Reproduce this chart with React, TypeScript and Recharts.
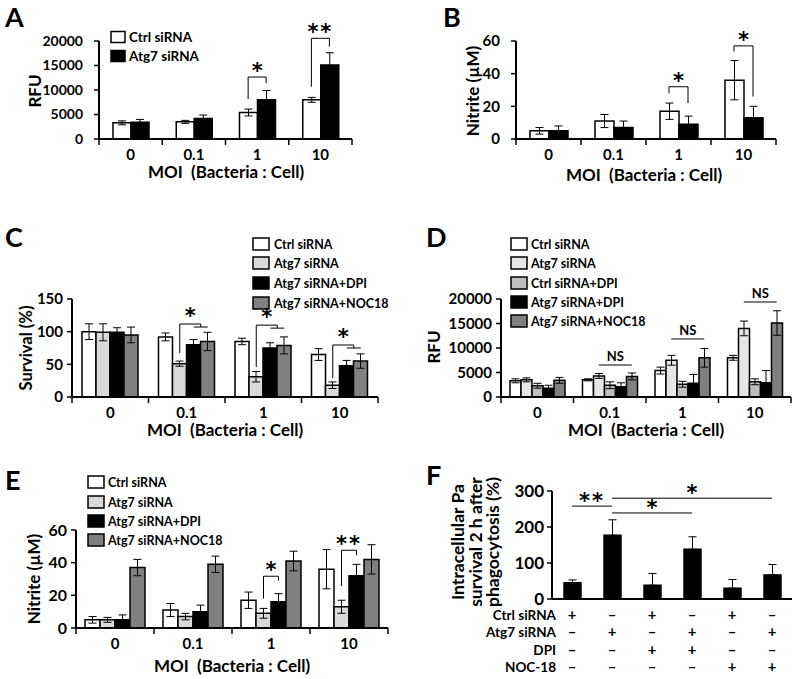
import { BarChart, Bar, XAxis, YAxis, ErrorBar } from 'recharts';

const FONT = 'Lato, "Open Sans", sans-serif';
const STAR_FONT = '"DejaVu Sans", sans-serif';

// categories
const moiCats = ['0', '0.1', '1', '10'];
const fCats = ['a', 'b', 'c', 'd', 'e', 'f'];

// A: RFU
const aCtrl = [3300, 3500, 5400, 8000];
const aCtrlErr = [400, 300, 700, 500];
const aAtg7 = [3400, 4200, 8000, 15100];
const aAtg7Err = [600, 700, 1900, 2500];

// B: nitrite
const bCtrl = [5, 11, 17, 36];
const bCtrlErr = [2, 4, 5, 12];
const bAtg7 = [5, 7, 9, 13];
const bAtg7Err = [3, 4, 5, 7];

// C: survival
const cCtrl = [100, 92, 85, 65];
const cCtrlErr = [12, 6, 5, 9];
const cAtg7 = [99, 51, 31, 18];
const cAtg7Err = [13, 4, 8, 5];
const cDpi = [99, 80, 75, 48];
const cDpiErr = [7, 8, 8, 8];
const cNoc = [95, 85, 79, 55];
const cNocErr = [12, 14, 13, 11];

// D: RFU
const dCtrl = [3300, 3500, 5400, 8000];
const dCtrlErr = [400, 200, 700, 500];
const dAtg7 = [3500, 4300, 7500, 14000];
const dAtg7Err = [400, 500, 1000, 1500];
const dCtrlDpi = [2300, 2400, 2600, 3100];
const dCtrlDpiErr = [500, 700, 600, 600];
const dAtg7Dpi = [1800, 2100, 2800, 2900];
const dAtg7DpiErr = [600, 800, 1800, 2500];
const dNoc = [3400, 4200, 8000, 15100];
const dNocErr = [600, 700, 1900, 2500];

// E: nitrite
const eCtrl = [5, 11, 17, 36];
const eCtrlErr = [2, 4, 5, 12];
const eAtg7 = [5, 7, 9, 13];
const eAtg7Err = [1.5, 2, 3, 4];
const eDpi = [5, 10, 16, 32];
const eDpiErr = [3, 4, 5, 7];
const eNoc = [37, 39, 41, 42];
const eNocErr = [5, 5, 6, 9];

// F: intracellular survival (upper error only)
const fValues = [45, 177, 38, 138, 30, 67];
const fErr = [8, 43, 33, 35, 24, 29];
const fCtrlSigns = ['+', '–', '+', '–', '+', '–'];
const fAtg7Signs = ['–', '+', '–', '+', '–', '+'];
const fDpiSigns = ['–', '–', '+', '+', '–', '–'];
const fNocSigns = ['–', '–', '–', '–', '+', '+'];

// significance marks (data units)
const sigA = [
  { cat: 2, top: 12650, leftEnd: 8160, rightEnd: 11370, label: '*' },
  { cat: 3, top: 20550, leftEnd: 10670, rightEnd: 18840, label: '**' },
];
const sigB = [
  { cat: 2, top: 32, leftEnd: 28, rightEnd: 22, label: '*' },
  { cat: 3, top: 57, leftEnd: 53.5, rightEnd: 26, label: '*' },
];
const sigC = [
  { cat: 1, top: 111.7, leftEnd: 67 },
  { cat: 2, top: 110, leftEnd: 46 },
  { cat: 3, top: 79.6, leftEnd: 29 },
];
const nsD = [
  { cat: 1, level: 6530 },
  { cat: 2, level: 11840 },
  { cat: 3, level: 19390 },
];
const sigE = [
  { cat: 2, top: 31.7, leftEnd: 18, rightEnd: 29, label: '*' },
  { cat: 3, top: 47.6, leftEnd: 25.7, rightEnd: 44.5, label: '**' },
];
const sigF = [
  { from: 0, to: 1, level: 258, label: '**' },
  { from: 1, to: 5, level: 280, label: '*' },
  { from: 1, to: 3, level: 239, label: '*' },
];

const WHITE = '#ffffff';
const LIGHT = '#d9d9d9';
const LIGHTER = '#e6e6e6';
const MID = '#bfbfbf';
const BLACK = '#000000';
const DARK = '#808080';

type Series = { name: string; values: number[]; errs: any[]; fill: string };
type Geom = { x: number; y: number; w: number; h: number; yMax: number; barSize: number; n: number; ns: number };

const seriesA: Series[] = [
  { name: 'Ctrl siRNA', values: aCtrl, errs: aCtrlErr, fill: WHITE },
  { name: 'Atg7 siRNA', values: aAtg7, errs: aAtg7Err, fill: BLACK },
];
const seriesB: Series[] = [
  { name: 'Ctrl siRNA', values: bCtrl, errs: bCtrlErr, fill: WHITE },
  { name: 'Atg7 siRNA', values: bAtg7, errs: bAtg7Err, fill: BLACK },
];
const seriesC: Series[] = [
  { name: 'Ctrl siRNA', values: cCtrl, errs: cCtrlErr, fill: WHITE },
  { name: 'Atg7 siRNA', values: cAtg7, errs: cAtg7Err, fill: LIGHT },
  { name: 'Atg7 siRNA+DPI', values: cDpi, errs: cDpiErr, fill: BLACK },
  { name: 'Atg7 siRNA+NOC18', values: cNoc, errs: cNocErr, fill: DARK },
];
const seriesD: Series[] = [
  { name: 'Ctrl siRNA', values: dCtrl, errs: dCtrlErr, fill: WHITE },
  { name: 'Atg7 siRNA', values: dAtg7, errs: dAtg7Err, fill: LIGHTER },
  { name: 'Ctrl siRNA+DPI', values: dCtrlDpi, errs: dCtrlDpiErr, fill: MID },
  { name: 'Atg7 siRNA+DPI', values: dAtg7Dpi, errs: dAtg7DpiErr, fill: BLACK },
  { name: 'Atg7 siRNA+NOC18', values: dNoc, errs: dNocErr, fill: DARK },
];
const seriesE: Series[] = [
  { name: 'Ctrl siRNA', values: eCtrl, errs: eCtrlErr, fill: WHITE },
  { name: 'Atg7 siRNA', values: eAtg7, errs: eAtg7Err, fill: LIGHT },
  { name: 'Atg7 siRNA+DPI', values: eDpi, errs: eDpiErr, fill: BLACK },
  { name: 'Atg7 siRNA+NOC18', values: eNoc, errs: eNocErr, fill: DARK },
];
const seriesF: Series[] = [
  { name: 'survival', values: fValues, errs: fErr.map((e) => [0, e]), fill: BLACK },
];

const gA: Geom = { x: 99, y: 41, w: 253, h: 98, yMax: 20000, barSize: 18, n: 4, ns: 2 };
const gB: Geom = { x: 516, y: 41, w: 260, h: 98, yMax: 60, barSize: 19, n: 4, ns: 2 };
const gC: Geom = { x: 72, y: 299, w: 306, h: 98, yMax: 150, barSize: 14, n: 4, ns: 4 };
const gD: Geom = { x: 501, y: 299, w: 290, h: 98, yMax: 20000, barSize: 11, n: 4, ns: 5 };
const gE: Geom = { x: 76, y: 530, w: 312, h: 98, yMax: 60, barSize: 15, n: 4, ns: 4 };
const gF: Geom = { x: 552, y: 491, w: 240, h: 108, yMax: 300, barSize: 17, n: 6, ns: 1 };

const bandW = (g: Geom) => g.w / g.n;
const cx = (g: Geom, cat: number, si: number) => g.x + bandW(g) * (cat + 0.5) + (si - (g.ns - 1) / 2) * g.barSize;
const py = (g: Geom, v: number) => g.y + g.h - (v / g.yMax) * g.h;

function buildRows(cats: string[], series: Series[]) {
  return cats.map((c, i) => {
    const r: any = { cat: c };
    series.forEach((s, j) => {
      r['v' + j] = s.values[i];
      r['e' + j] = s.errs[i];
    });
    return r;
  });
}

function Panel({ g, cats, series, yTicks, yTickMargin, tickFont, showX = true }: any) {
  const ml = 70;
  const mt = 12;
  const rows = buildRows(cats, series);
  const axisStyle = { stroke: '#000', strokeWidth: 2 };
  const tickStyle = { fill: '#000', fontSize: tickFont, fontWeight: 700, fontFamily: FONT };
  return (
    <div style={{ position: 'absolute', left: g.x - ml, top: g.y - mt }}>
      <BarChart
        width={g.w + ml + 12}
        height={g.h + mt + 40}
        data={rows}
        margin={{ top: mt, right: 12, left: 0, bottom: 0 }}
        barSize={g.barSize}
        barGap={0}
      >
        <XAxis
          dataKey="cat"
          height={40}
          axisLine={axisStyle}
          tickLine={false}
          tick={showX ? { ...tickStyle, fontSize: 15 } : false}
          tickSize={6}
          tickMargin={4}
          interval={0}
        />
        <YAxis
          type="number"
          width={ml}
          domain={[0, g.yMax]}
          ticks={yTicks}
          allowDataOverflow
          axisLine={axisStyle}
          tickLine={{ stroke: '#000', strokeWidth: 1.5 }}
          tickSize={5}
          tickMargin={yTickMargin}
          tick={tickStyle}
        />
        {series.map((s: Series, j: number) => (
          <Bar key={j} dataKey={'v' + j} fill={s.fill} stroke="#000" strokeWidth={1.5} isAnimationActive={false}>
            <ErrorBar dataKey={'e' + j} width={4} stroke="#000" strokeWidth={1} direction="y" />
          </Bar>
        ))}
      </BarChart>
    </div>
  );
}

function CatTicks({ g }: { g: Geom }) {
  const lines = [];
  for (let k = 0; k <= g.n; k++) {
    const x = g.x + bandW(g) * k;
    lines.push(<line key={k} x1={x} x2={x} y1={g.y + g.h} y2={g.y + g.h + 6} stroke="#000" strokeWidth={1.5} />);
  }
  return <g>{lines}</g>;
}

function Legend({ series, x, rows, textX, boxW = 16, boxH = 12, size = 12.5 }: any) {
  return (
    <g>
      {series.map((s: Series, i: number) => (
        <g key={i}>
          <rect x={x} y={rows[i] - boxH / 2} width={boxW} height={boxH} fill={s.fill} stroke="#000" strokeWidth={1.5} />
          <text x={textX} y={rows[i] + 4.5} fontSize={size} fill="#000">{s.name}</text>
        </g>
      ))}
    </g>
  );
}

// star glyph centred roughly 8px above the given line
function Star({ x, y, label }: any) {
  return (
    <text x={x} y={y} fontSize={21} fontFamily={STAR_FONT} textAnchor="middle" letterSpacing={label.length > 1 ? 2 : 0}>
      {label}
    </text>
  );
}

function Brackets({ g, marks, from = 0, to = 1 }: any) {
  return (
    <g>
      {marks.map((m: any, i: number) => {
        const lx = cx(g, m.cat, from);
        const rx = cx(g, m.cat, to);
        const ty = py(g, m.top);
        return (
          <g key={i}>
            <path d={`M${lx},${py(g, m.leftEnd)} V${ty} H${rx} V${py(g, m.rightEnd)}`} fill="none" stroke="#000" strokeWidth={1} />
            <Star x={(lx + rx) / 2} y={ty + 1} label={m.label} />
          </g>
        );
      })}
    </g>
  );
}

function GroupBrackets({ g, marks }: any) {
  return (
    <g>
      {marks.map((m: any, i: number) => {
        const lx = cx(g, m.cat, 1);
        const a = cx(g, m.cat, 2);
        const b = cx(g, m.cat, 3);
        const mid = (a + b) / 2;
        const ty = py(g, m.top);
        return (
          <g key={i}>
            <path d={`M${lx},${py(g, m.leftEnd)} V${ty} H${mid} V${ty + 3} M${a},${ty + 3} H${b}`} fill="none" stroke="#000" strokeWidth={1} />
            <Star x={(lx + mid) / 2} y={ty - 1} label="*" />
          </g>
        );
      })}
    </g>
  );
}

function YLabel({ x, y, lines, size = 17 }: any) {
  return (
    <text transform={`translate(${x},${y}) rotate(-90)`} fontSize={size} textAnchor="middle" dominantBaseline="central">
      {lines}
    </text>
  );
}

function XLabel({ x, y }: any) {
  return (
    <text x={x} y={y} fontSize={17} textAnchor="middle" xmlSpace="preserve">MOI  (Bacteria : Cell)</text>
  );
}

export default function App() {
  const fRows = [
    { label: 'Ctrl siRNA', signs: fCtrlSigns, y: 615 },
    { label: 'Atg7 siRNA', signs: fAtg7Signs, y: 632 },
    { label: 'DPI', signs: fDpiSigns, y: 650 },
    { label: 'NOC-18', signs: fNocSigns, y: 667 },
  ];
  return (
    <div style={{ position: 'absolute', left: 0, top: 0, width: 800, height: 679, background: '#fff', fontFamily: FONT }}>
      <Panel g={gA} cats={moiCats} series={seriesA} yTicks={[0, 5000, 10000, 15000, 20000]} yTickMargin={11} tickFont={14} />
      <Panel g={gB} cats={moiCats} series={seriesB} yTicks={[0, 20, 40, 60]} yTickMargin={11} tickFont={15} />
      <Panel g={gC} cats={moiCats} series={seriesC} yTicks={[0, 50, 100, 150]} yTickMargin={4} tickFont={15} />
      <Panel g={gD} cats={moiCats} series={seriesD} yTicks={[0, 5000, 10000, 15000, 20000]} yTickMargin={4} tickFont={15} />
      <Panel g={gE} cats={moiCats} series={seriesE} yTicks={[0, 20, 40, 60]} yTickMargin={4} tickFont={16} />
      <Panel g={gF} cats={fCats} series={seriesF} yTicks={[0, 100, 200, 300]} yTickMargin={3} tickFont={17} showX={false} />

      <svg width={800} height={679} style={{ position: 'absolute', left: 0, top: 0, pointerEvents: 'none' }} fontFamily={FONT} fontWeight={700} fill="#000">
        {/* panel letters */}
        <text x={5} y={27} fontSize={27}>A</text>
        <text x={443} y={27} fontSize={27}>B</text>
        <text x={5} y={247} fontSize={27}>C</text>
        <text x={426} y={247} fontSize={27}>D</text>
        <text x={5} y={490} fontSize={27}>E</text>
        <text x={426} y={485} fontSize={27}>F</text>

        {/* axis titles */}
        <YLabel x={34} y={91} lines="RFU" />
        <YLabel x={472} y={91} lines="Nitrite (µM)" />
        <YLabel x={26} y={348} lines="Survival (%)" size={16.5} />
        <YLabel x={433} y={347} lines="RFU" />
        <YLabel x={33} y={579} lines="Nitrite (µM)" />
        <YLabel x={457} y={542} lines="Intracellular  Pa" size={17.5} />
        <YLabel x={475} y={542} lines="survival 2 h after" size={17.5} />
        <YLabel x={492} y={542} lines="phagocytosis (%)" size={17.5} />

        <XLabel x={226} y={178} />
        <XLabel x={644} y={181} />
        <XLabel x={225} y={436} />
        <XLabel x={646} y={436} />
        <XLabel x={232} y={672} />

        {/* category boundary ticks */}
        <CatTicks g={gA} />
        <CatTicks g={gB} />
        <CatTicks g={gC} />
        <CatTicks g={gD} />
        <CatTicks g={gE} />

        {/* legends */}
        <Legend series={seriesA} x={111} rows={[37, 56]} textX={129} boxW={14} boxH={11} size={13.5} />
        <Legend series={seriesC} x={253} rows={[244, 263, 283, 303]} textX={274} />
        <Legend series={seriesD} x={511} rows={[244, 263, 283, 302, 321]} textX={531} />
        <Legend series={seriesE} x={88} rows={[482, 502, 521, 540]} textX={108} />

        {/* significance */}
        <Brackets g={gA} marks={sigA} />
        <Brackets g={gB} marks={sigB} />
        <GroupBrackets g={gC} marks={sigC} />
        <Brackets g={gE} marks={sigE} from={1} to={2} />
        {nsD.map((m, i) => {
          const a = cx(gD, m.cat, 1);
          const b = cx(gD, m.cat, 4);
          const y = py(gD, m.level);
          return (
            <g key={i}>
              <line x1={a} x2={b} y1={y} y2={y} stroke="#000" strokeWidth={1} />
              <text x={(a + b) / 2} y={y - 4} fontSize={13} textAnchor="middle">NS</text>
            </g>
          );
        })}
        {sigF.map((m, i) => {
          const a = cx(gF, m.from, 0);
          const b = cx(gF, m.to, 0);
          const y = py(gF, m.level);
          return (
            <g key={i}>
              <line x1={a} x2={b} y1={y} y2={y} stroke="#000" strokeWidth={1} />
              <Star x={(a + b) / 2} y={y + 2} label={m.label} />
            </g>
          );
        })}

        {/* F treatment table */}
        {fRows.map((r, i) => (
          <g key={i}>
            <text x={556} y={r.y + 5} fontSize={13.5} textAnchor="end">{r.label}</text>
            {r.signs.map((s, j) => (
              <text key={j} x={cx(gF, j, 0)} y={r.y + 5} fontSize={15} textAnchor="middle">{s}</text>
            ))}
          </g>
        ))}
      </svg>
    </div>
  );
}
